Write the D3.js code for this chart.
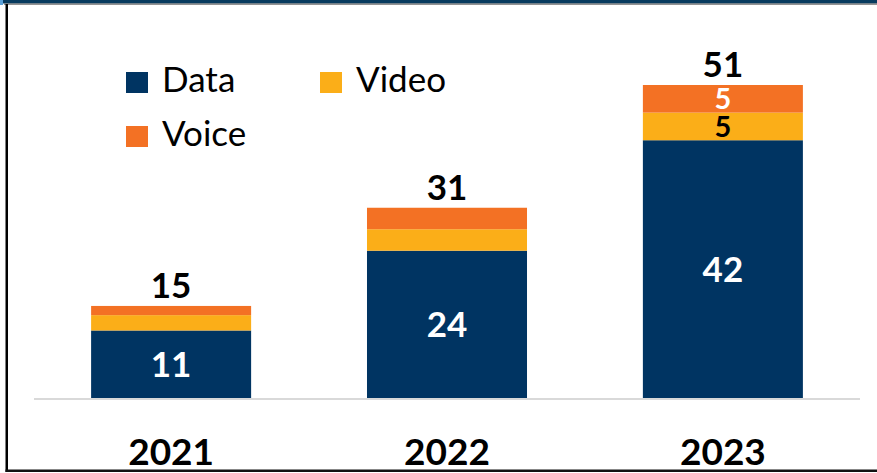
<!DOCTYPE html>
<html>
<head>
<meta charset="utf-8">
<script src="https://cdn.jsdelivr.net/npm/d3@7"></script>
<style>
  html, body { margin: 0; padding: 0; background: #fff; }
  svg { display: block; }
</style>
</head>
<body>
<svg id="chart" width="877" height="473"></svg>
<script>
// Traffic by year, stacked by type
const years = ["2021", "2022", "2023"];
const dataValues = [11, 24, 42];
const videoValues = [2.5, 3.5, 4.5];
const voiceValues = [1.5, 3.5, 4.5];
const seriesNames = ["Data", "Video", "Voice"];
const seriesColors = ["#003462", "#FBAE18", "#F37124"];

const svg = d3.select("#chart");
const W = 877, H = 473;
const font = "Lato, 'Open Sans', sans-serif";

// frame: dark band on top, black rules left and bottom
svg.append("rect").attr("x", 0).attr("y", 0).attr("width", W).attr("height", 3.5).attr("fill", "#073b5f");
svg.append("rect").attr("x", 0).attr("y", 0).attr("width", 3).attr("height", 5).attr("fill", "#5aa0d8");
svg.append("rect").attr("x", 4).attr("y", 3.5).attr("width", W - 4).attr("height", 1.2).attr("fill", "#666");
svg.append("rect").attr("x", 5.5).attr("y", 4).attr("width", 2.5).attr("height", 468).attr("fill", "#000");
svg.append("rect").attr("x", 5.5).attr("y", 469.5).attr("width", W - 5.5).attr("height", 2.5).attr("fill", "#111");

const rows = years.map((y, i) => ({
  year: y,
  Data: dataValues[i],
  Video: videoValues[i],
  Voice: voiceValues[i]
}));

const stack = d3.stack().keys(seriesNames);
const layers = stack(rows);

const x = d3.scaleBand()
  .domain(years)
  .range([34, 860])
  .paddingInner(0.42)
  .paddingOuter(0.207);

const y = d3.scaleLinear()
  .domain([0, 51])
  .range([398, 85]);

// baseline
svg.append("line")
  .attr("x1", 34).attr("x2", 860)
  .attr("y1", y(0) + 1).attr("y2", y(0) + 1)
  .attr("stroke", "#d9d9d9").attr("stroke-width", 2);

// bars
const color = d3.scaleOrdinal().domain(seriesNames).range(seriesColors);
svg.append("g").selectAll("g")
  .data(layers)
  .join("g")
  .attr("fill", d => color(d.key))
  .selectAll("rect")
  .data(d => d)
  .join("rect")
  .attr("x", d => x(d.data.year))
  .attr("width", x.bandwidth())
  .attr("y", d => y(d[1]))
  .attr("height", d => y(d[0]) - y(d[1]));

const fmt = v => String(Math.round(v));

// data labels, centred in the data segment
svg.append("g").selectAll("text")
  .data(layers[0])
  .join("text")
  .attr("x", d => x(d.data.year) + x.bandwidth() / 2)
  .attr("y", d => (y(d[0]) + y(d[1])) / 2)
  .attr("dy", "0.36em")
  .attr("text-anchor", "middle")
  .attr("font-family", font).attr("font-weight", 700).attr("font-size", 35)
  .attr("fill", "#fff")
  .text(d => fmt(d[1] - d[0]));

// video and voice labels only where the segment is tall enough
const smallLabels = [
  { layer: 1, fill: "#000" },
  { layer: 2, fill: "#fff" }
];
smallLabels.forEach(s => {
  svg.append("g").selectAll("text")
    .data(layers[s.layer].filter(d => d.data.year === "2023"))
    .join("text")
    .attr("x", d => x(d.data.year) + x.bandwidth() / 2)
    .attr("y", d => (y(d[0]) + y(d[1])) / 2)
    .attr("dy", "0.36em")
    .attr("text-anchor", "middle")
    .attr("font-family", font).attr("font-weight", 700).attr("font-size", 29)
    .attr("fill", s.fill)
    .text(d => fmt(d[1] - d[0]));
});

// totals above each bar
svg.append("g").selectAll("text")
  .data(layers[2])
  .join("text")
  .attr("x", d => x(d.data.year) + x.bandwidth() / 2)
  .attr("y", d => y(d[1]) - 8)
  .attr("text-anchor", "middle")
  .attr("font-family", font).attr("font-weight", 700).attr("font-size", 35)
  .attr("fill", "#000")
  .text(d => fmt(d[1]));

// year axis
const xAxis = svg.append("g")
  .attr("transform", `translate(0, ${y(0)})`)
  .call(d3.axisBottom(x).tickSize(0).tickPadding(0));
xAxis.select(".domain").remove();
xAxis.selectAll("text")
  .attr("y", 67)
  .attr("dy", 0)
  .attr("font-family", font).attr("font-weight", 700).attr("font-size", 37)
  .attr("fill", "#000");

// legend
const legendItems = [
  { name: "Data", x: 126, y: 92 },
  { name: "Video", x: 320, y: 92 },
  { name: "Voice", x: 126, y: 146 }
];
const lg = svg.append("g").selectAll("g")
  .data(legendItems)
  .join("g")
  .attr("transform", d => `translate(${d.x}, ${d.y})`);
lg.append("rect")
  .attr("x", 0).attr("y", -20).attr("width", 22).attr("height", 21)
  .attr("fill", d => color(d.name));
lg.append("text")
  .attr("x", 36).attr("y", 0)
  .attr("font-family", font).attr("font-size", 35)
  .attr("fill", "#000")
  .text(d => d.name);
</script>
</body>
</html>
